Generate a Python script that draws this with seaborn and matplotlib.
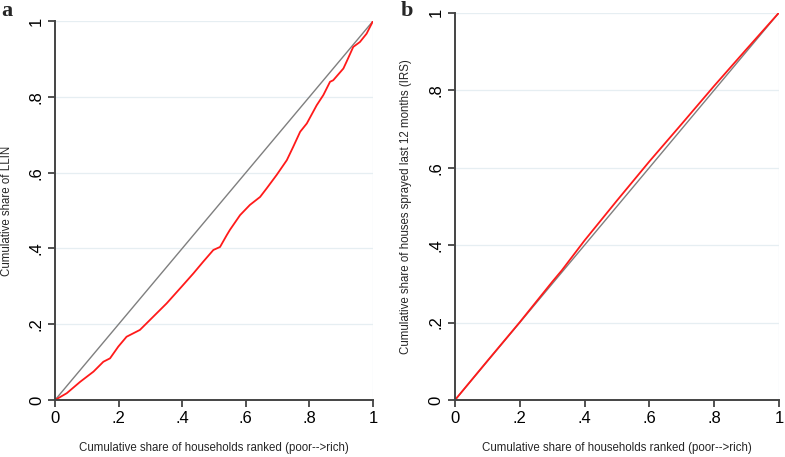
import numpy as np
import pandas as pd
import seaborn as sns
import matplotlib.pyplot as plt

# concentration curve for LLIN (panel a)
llin_x = [0.0, 0.037, 0.079, 0.121, 0.152, 0.173, 0.199, 0.225, 0.267, 0.309, 0.351,
          0.398, 0.435, 0.466, 0.498, 0.519, 0.540, 0.550, 0.582, 0.613, 0.645, 0.666,
          0.697, 0.729, 0.749, 0.771, 0.792, 0.823, 0.844, 0.865, 0.875, 0.907, 0.917,
          0.938, 0.959, 0.980, 1.0]
llin_y = [0.0, 0.018, 0.048, 0.075, 0.101, 0.110, 0.141, 0.167, 0.185, 0.220, 0.255,
          0.299, 0.334, 0.365, 0.396, 0.404, 0.435, 0.449, 0.488, 0.515, 0.536, 0.559,
          0.594, 0.633, 0.668, 0.708, 0.730, 0.778, 0.805, 0.840, 0.844, 0.875, 0.893,
          0.932, 0.945, 0.967, 1.0]

# concentration curve for IRS (panel b)
irs_x = [0.0, 0.1, 0.2, 0.3, 0.33, 0.4, 0.5, 0.6, 0.7, 0.8, 0.9, 1.0]
irs_y = [0.0, 0.101, 0.201, 0.305, 0.335, 0.412, 0.515, 0.616, 0.713, 0.811, 0.906, 1.0]

equality = [0.0, 1.0]
ticks = [0, 0.2, 0.4, 0.6, 0.8, 1.0]
tick_labels = ["0", ".2", ".4", ".6", ".8", "1"]

sns.set_style("white")
plt.rcParams['font.family'] = ['Liberation Sans', 'DejaVu Sans']

fig = plt.figure(figsize=(7.85, 4.57), dpi=100)
ax_a = fig.add_axes([0.0701, 0.1247, 0.405, 0.829])
ax_b = fig.add_axes([0.5796, 0.1247, 0.4127, 0.8475])

panels = [
    (ax_a, llin_x, llin_y, "Cumulative share of LLIN", "a", 0.002, 379.0, 318.0),
    (ax_b, irs_x, irs_y, "Cumulative share of houses sprayed last 12 months (IRS)", "b",
     0.510, 387.3, 324.0),
]

for ax, xs, ys, ylab, letter, lx, h_px, w_px in panels:
    for t in ticks[1:]:
        ax.axhline(t, color="#e6eef2", lw=0.9, zorder=0)
    ax.axvline(1.0, color="#e6eef2", lw=0.9, zorder=0)
    sns.lineplot(x=equality, y=equality, ax=ax, color="#7f7f7f", lw=1.0)
    df = pd.DataFrame({"x": xs, "y": ys})
    sns.lineplot(data=df, x="x", y="y", ax=ax, color="#ff1a1a", lw=1.3,
                 sort=False, estimator=None)
    ax.set_xlim(0, 1)
    ax.set_ylim(0, 1)
    ax.set_xticks(ticks)
    ax.set_xticklabels(tick_labels)
    ax.set_yticks(ticks)
    ax.set_yticklabels(tick_labels, rotation=90, va="center")
    ax.tick_params(axis="both", direction="out", length=5, width=1.2,
                   labelsize=12, colors="#333333", labelcolor="black", pad=3)
    ax.tick_params(left=True, bottom=True)
    for side in ["top", "right"]:
        ax.spines[side].set_visible(False)
    for side in ["left", "bottom"]:
        ax.spines[side].set_color("#444444")
        ax.spines[side].set_linewidth(1.4)
    ax.set_xlabel("Cumulative share of households ranked (poor-->rich)", fontsize=8.3)
    ax.xaxis.set_label_coords(0.5, -48.0 / h_px)
    ax.xaxis.label.set_va("center")
    ax.set_ylabel(ylab, fontsize=8.3)
    ax.yaxis.set_label_coords(-48.5 / w_px, 0.5)
    ax.yaxis.label.set_va("center")
    fig.text(lx, 0.975, letter, fontsize=16, fontweight="bold",
             family="Liberation Serif", va="center", ha="left")

fig.savefig("out.png", dpi=100)
